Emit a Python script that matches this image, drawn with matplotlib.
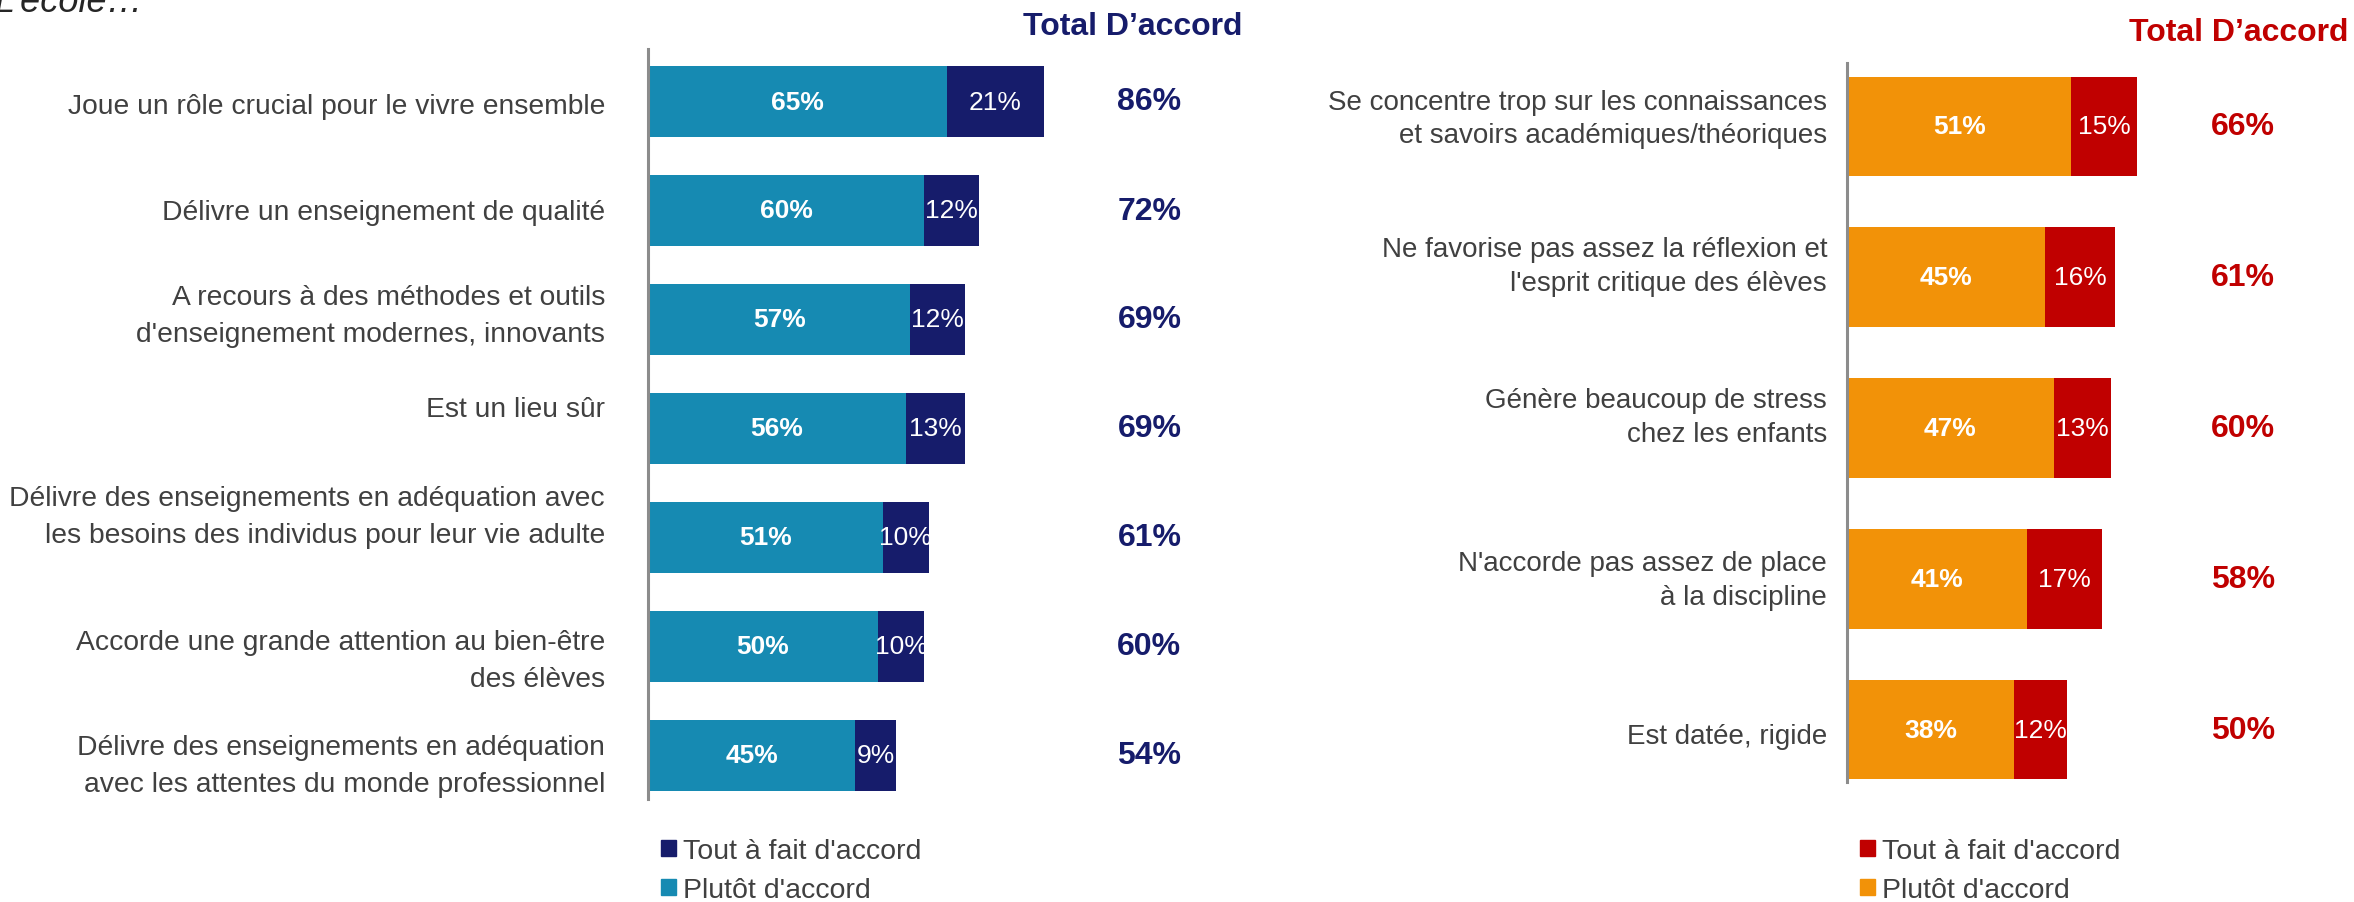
import numpy as np
import matplotlib.pyplot as plt
from matplotlib.patches import Patch
from matplotlib.transforms import ScaledTranslation

plt.rcParams['font.family'] = ['Liberation Sans', 'DejaVu Sans']

# Left panel data
left_labels = [
    'Joue un rôle crucial pour le vivre ensemble',
    'Délivre un enseignement de qualité',
    'A recours à des méthodes et outils\nd\'enseignement modernes, innovants',
    'Est un lieu sûr',
    'Délivre des enseignements en adéquation avec\nles besoins des individus pour leur vie adulte',
    'Accorde une grande attention au bien-être\ndes élèves',
    'Délivre des enseignements en adéquation\navec les attentes du monde professionnel',
]
left_plutot = [65, 60, 57, 56, 51, 50, 45]
left_tout = [21, 12, 12, 13, 10, 10, 9]
left_total = [86, 72, 69, 69, 61, 60, 54]

# Right panel data
right_labels = [
    'Se concentre trop sur les connaissances\net savoirs académiques/théoriques',
    'Ne favorise pas assez la réflexion et\nl\'esprit critique des élèves',
    'Génère beaucoup de stress\nchez les enfants',
    'N\'accorde pas assez de place\nà la discipline',
    'Est datée, rigide',
]
right_plutot = [51, 45, 47, 41, 38]
right_tout = [15, 16, 13, 17, 12]
right_total = [66, 61, 60, 58, 50]

legend_labels = ["Tout à fait d'accord", "Plutôt d'accord"]

# small vertical nudges of the category labels (pixels, + = down)
left_nudge = [4, 1, -4, -19, -21, 14, 10]
right_nudge = [-8, -11, -11, 1, 6]

W, H = 2354, 903
fig = plt.figure(figsize=(W / 100, H / 100), dpi=100)

TEXT = '#404040'


def panel(rect, labels, plutot, tout, total, c_light, c_dark, height,
          label_family, label_size, label_ls, pad, total_x, nudge):
    ax = fig.add_axes(rect)
    y = np.arange(len(labels))
    ax.barh(y, plutot, height=height, color=c_light)
    ax.barh(y, tout, left=plutot, height=height, color=c_dark)
    for yi, p, t, tot in zip(y, plutot, tout, total):
        ax.text(p / 2, yi, '{}%'.format(p), ha='center', va='center',
                color='white', fontsize=19, fontweight='bold')
        ax.text(p + t / 2, yi, '{}%'.format(t), ha='center', va='center',
                color='white', fontsize=19)
        ax.text(total_x, yi, '{}%'.format(tot), ha='center', va='center',
                color=c_dark, fontsize=23, fontweight='bold', clip_on=False)
    # category labels
    for yi, lab, dy in zip(y, labels, nudge):
        tr = ax.get_yaxis_transform() + ScaledTranslation(
            -pad / 100, -dy / 100, fig.dpi_scale_trans)
        ax.text(0, yi, lab, transform=tr, ha='right', va='center',
                multialignment='right', fontsize=label_size, color=TEXT,
                family=label_family, linespacing=label_ls, clip_on=False)
    ax.set_xlim(0, 100)
    ax.set_ylim(len(labels) - 0.5, -0.5)
    ax.set_yticks([])
    ax.set_xticks([])
    for s in ['top', 'right', 'bottom']:
        ax.spines[s].set_visible(False)
    ax.spines['left'].set_color('#8c8c8c')
    ax.spines['left'].set_linewidth(2.2)
    ax.set_zorder(1)
    ax.patch.set_alpha(0)
    return ax


# Left panel: axis at x=648 px, 4.6 px per %
axl = panel([648 / W, 1 - 811 / H, 460 / W, (811 - 48) / H],
            left_labels, left_plutot, left_tout, left_total,
            '#168AB2', '#161C6B', 0.65,
            ['Liberation Sans Narrow', 'Liberation Sans'], 20.3, 1.55,
            43, 109, left_nudge)
axl.spines['left'].set_bounds(6.4, -0.48)

# Right panel: axis at x=1847 px, 4.4 px per %
axr = panel([1847 / W, 1 - 806 / H, 440 / W, (806 - 52) / H],
            right_labels, right_plutot, right_tout, right_total,
            '#F29208', '#C00000', 0.66,
            ['Liberation Sans'], 20, 1.38, 20, 90, right_nudge)
axr.spines['left'].set_bounds(4.35, -0.42)

fig.text(1133 / W, 1 - 27 / H, 'Total D\u2019accord', ha='center', va='center',
         color='#161C6B', fontsize=23, fontweight='bold')
fig.text(2239 / W, 1 - 33 / H, 'Total D\u2019accord', ha='center', va='center',
         color='#C00000', fontsize=23, fontweight='bold')

fig.text(-0.002, 1 - 12 / H, 'L\u2019école\u2026', ha='left', va='baseline',
         color='#262626', fontsize=26, style='italic')

for x0, cd, cl in [(650, '#161C6B', '#168AB2'), (1849, '#C00000', '#F29208')]:
    handles = [Patch(color=cd), Patch(color=cl)]
    fig.legend(handles, legend_labels, loc='upper left',
               bbox_to_anchor=(x0 / W, 1 - 828 / H), frameon=False,
               fontsize=20.5, handlelength=0.5, handleheight=0.5,
               handletextpad=0.25, labelspacing=0.45, borderaxespad=0,
               labelcolor=TEXT)

fig.savefig('out.png', dpi=100)
